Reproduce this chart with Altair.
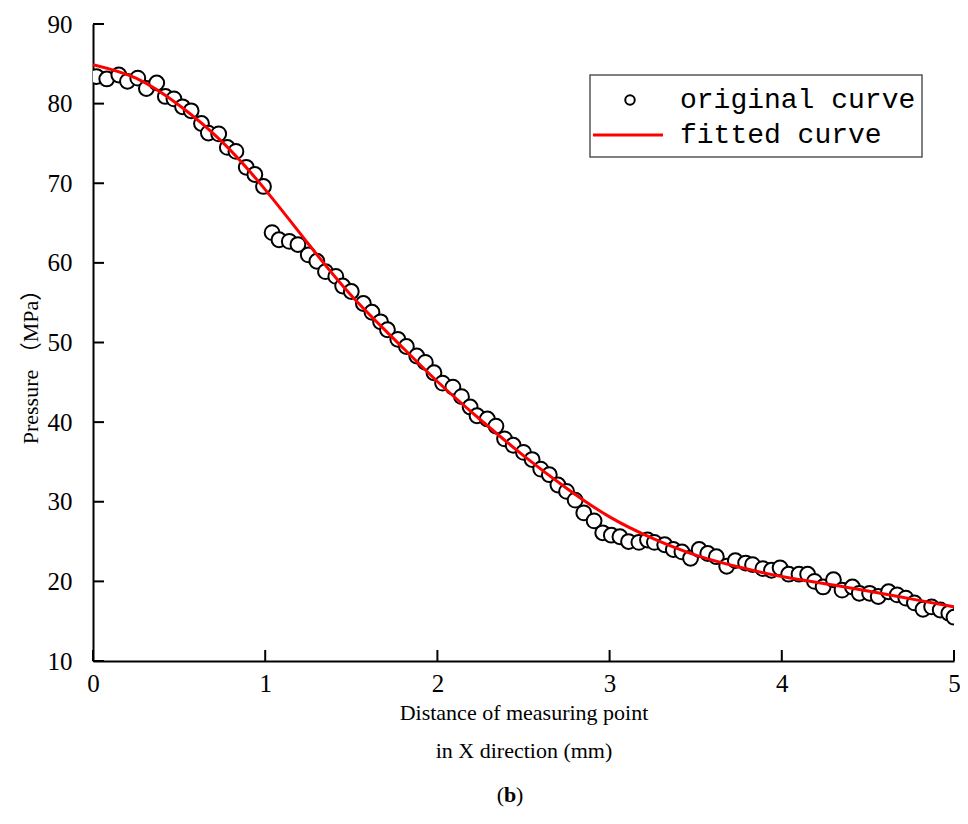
import altair as alt
import pandas as pd

# ---- data ----
orig_x = [0.02, 0.08, 0.15, 0.20, 0.26, 0.31, 0.37, 0.42, 0.47, 0.52, 0.57, 0.63, 0.67, 0.73, 0.78, 0.83, 0.89, 0.94, 0.99,
          1.04, 1.08, 1.14, 1.19, 1.25, 1.30, 1.35, 1.41, 1.45, 1.50, 1.57, 1.62, 1.67, 1.71, 1.77, 1.82, 1.88, 1.93, 1.98,
          2.03, 2.09, 2.14, 2.19, 2.23, 2.29, 2.34, 2.39, 2.44, 2.50, 2.55, 2.60, 2.65, 2.70, 2.75, 2.80, 2.85, 2.91, 2.96,
          3.01, 3.06, 3.11, 3.17, 3.22, 3.26, 3.32, 3.37, 3.42, 3.47, 3.52, 3.57, 3.62, 3.68, 3.73, 3.79, 3.83, 3.89, 3.94,
          3.99, 4.04, 4.10, 4.15, 4.19, 4.24, 4.30, 4.35, 4.41, 4.45, 4.51, 4.56, 4.62, 4.67, 4.72, 4.77, 4.82, 4.87, 4.92,
          4.97, 5.00]
orig_p = [83.4, 83.1, 83.6, 82.8, 83.2, 81.9, 82.6, 80.9, 80.6, 79.6, 79.1, 77.5, 76.3, 76.2, 74.5, 74.0, 72.0, 71.1, 69.6,
          63.8, 62.9, 62.7, 62.3, 61.0, 60.2, 58.9, 58.3, 57.1, 56.4, 54.9, 53.8, 52.6, 51.6, 50.4, 49.5, 48.3, 47.5, 46.2,
          44.9, 44.4, 43.2, 41.9, 40.8, 40.4, 39.5, 37.9, 37.1, 36.2, 35.3, 34.1, 33.4, 32.1, 31.3, 30.2, 28.6, 27.6, 26.1,
          25.8, 25.6, 25.0, 24.9, 25.2, 24.9, 24.6, 24.0, 23.7, 22.9, 24.0, 23.5, 23.1, 21.9, 22.6, 22.3, 22.1, 21.6, 21.4,
          21.7, 20.9, 20.9, 20.9, 20.0, 19.3, 20.2, 18.9, 19.3, 18.5, 18.5, 18.1, 18.7, 18.3, 17.9, 17.3, 16.5, 16.8, 16.4,
          16.0, 15.5]

fit_x = [0, 0.25, 0.5, 0.75, 1.0, 1.25, 1.5, 1.75, 2.0, 2.25, 2.5, 2.75, 3.0, 3.25, 3.5, 3.75, 4.0, 4.25, 4.5, 4.75, 5.0]
fit_p = [84.9, 83.2, 79.8, 75.2, 69.2, 62.4, 55.9, 50.4, 45.1, 40.3, 35.8, 31.7, 28.1, 25.4, 23.3, 21.8, 20.6, 19.7, 18.8, 17.8, 16.8]

x_ticks = [0, 1, 2, 3, 4, 5]
y_ticks = [10, 20, 30, 40, 50, 60, 70, 80, 90]

legend_labels = ["original curve", "fitted curve"]
x_title = ["Distance of measuring point", "in X direction (mm)"]
y_title = "Pressure （MPa）"

W, H = 861, 637
SERIF = "Liberation Serif, Times New Roman, serif"

df_o = pd.DataFrame({"x": orig_x, "p": orig_p})
df_f = pd.DataFrame({"x": fit_x, "p": fit_p})
df_xt = pd.DataFrame({"x": x_ticks})
df_yt = pd.DataFrame({"p": y_ticks})
one = pd.DataFrame({"a": [0]})

xs = alt.Scale(domain=[0, 5], nice=False, zero=False)
ys = alt.Scale(domain=[10, 90], nice=False, zero=False)

x_axis = alt.Axis(values=x_ticks, ticks=False, tickSize=0, grid=False, domainColor="black", domainWidth=2,
                  labelFont=SERIF, labelFontSize=25, labelColor="black", labelPadding=10, labelFlush=False,
                  title=x_title, titleFont=SERIF, titleFontSize=22, titleFontWeight="normal", titleColor="black",
                  titleX=W / 2, titleY=41, titleBaseline="top", titleAlign="center", titleLineHeight=38)
y_axis = alt.Axis(values=y_ticks, ticks=False, tickSize=0, grid=False, domainColor="black", domainWidth=2,
                  labelFont=SERIF, labelFontSize=25, labelColor="black", labelPadding=21, labelFlush=False,
                  title=y_title, titleFont="Liberation Serif, Noto Sans CJK SC", titleFontSize=22,
                  titleFontWeight="normal", titleColor="black", titleAngle=270,
                  titleX=-63, titleY=337, titleBaseline="middle", titleAlign="center")

X = alt.X("x:Q", scale=xs, axis=x_axis)
Y = alt.Y("p:Q", scale=ys, axis=y_axis)

points = alt.Chart(df_o).mark_circle(size=220, color="white", stroke="black", strokeWidth=2,
                                     opacity=1, clip=True).encode(x=X, y=Y)

line = alt.Chart(df_f).mark_line(color="#ff0000", strokeWidth=3, interpolate="natural", clip=True).encode(x=X, y=Y)

xt = alt.Chart(df_xt).mark_rule(color="black", strokeWidth=2).encode(
    x=X, y=alt.value(H), y2=alt.value(H - 11))
yt = alt.Chart(df_yt).mark_rule(color="black", strokeWidth=2).encode(
    y=Y, x=alt.value(0), x2=alt.value(11))

# legend (drawn as decoration)
box = alt.Chart(one).mark_rect(fillOpacity=0, stroke="#555555", strokeWidth=1.5).encode(
    x=alt.value(497), x2=alt.value(829), y=alt.value(51), y2=alt.value(133))
lg_pt = alt.Chart(one).mark_circle(size=90, color="white", stroke="black", strokeWidth=2, opacity=1).encode(
    x=alt.value(537), y=alt.value(76))
lg_ln = alt.Chart(one).mark_rule(color="#ff0000", strokeWidth=3).encode(
    x=alt.value(500), x2=alt.value(570), y=alt.value(111))
lg_t1 = alt.Chart(one).mark_text(align="left", baseline="middle", font="Liberation Mono", fontSize=28,
                                 color="black").encode(x=alt.value(587), y=alt.value(76), text=alt.value(legend_labels[0]))
lg_t2 = alt.Chart(one).mark_text(align="left", baseline="middle", font="Liberation Mono", fontSize=28,
                                 color="black").encode(x=alt.value(587), y=alt.value(111), text=alt.value(legend_labels[1]))

# caption (b)
cap1 = alt.Chart(one).mark_text(align="right", baseline="middle", font=SERIF, fontSize=22, color="black").encode(
    x=alt.value(411), y=alt.value(771), text=alt.value("("))
cap2 = alt.Chart(one).mark_text(align="center", baseline="middle", font=SERIF, fontSize=22, fontWeight="bold",
                                color="black").encode(x=alt.value(417), y=alt.value(771), text=alt.value("b"))
cap3 = alt.Chart(one).mark_text(align="left", baseline="middle", font=SERIF, fontSize=22, color="black").encode(
    x=alt.value(423), y=alt.value(771), text=alt.value(")"))

chart = alt.layer(points, line, xt, yt, box, lg_pt, lg_ln, lg_t1, lg_t2, cap1, cap2, cap3).properties(
    width=W, height=H,
    autosize=alt.AutoSizeParams(type="none"),
    padding={"left": 85, "top": 16, "right": 6, "bottom": 150},
    background="white",
).configure_view(stroke=None)

chart.save("out.html", embed_options={"renderer": "svg", "actions": False})
